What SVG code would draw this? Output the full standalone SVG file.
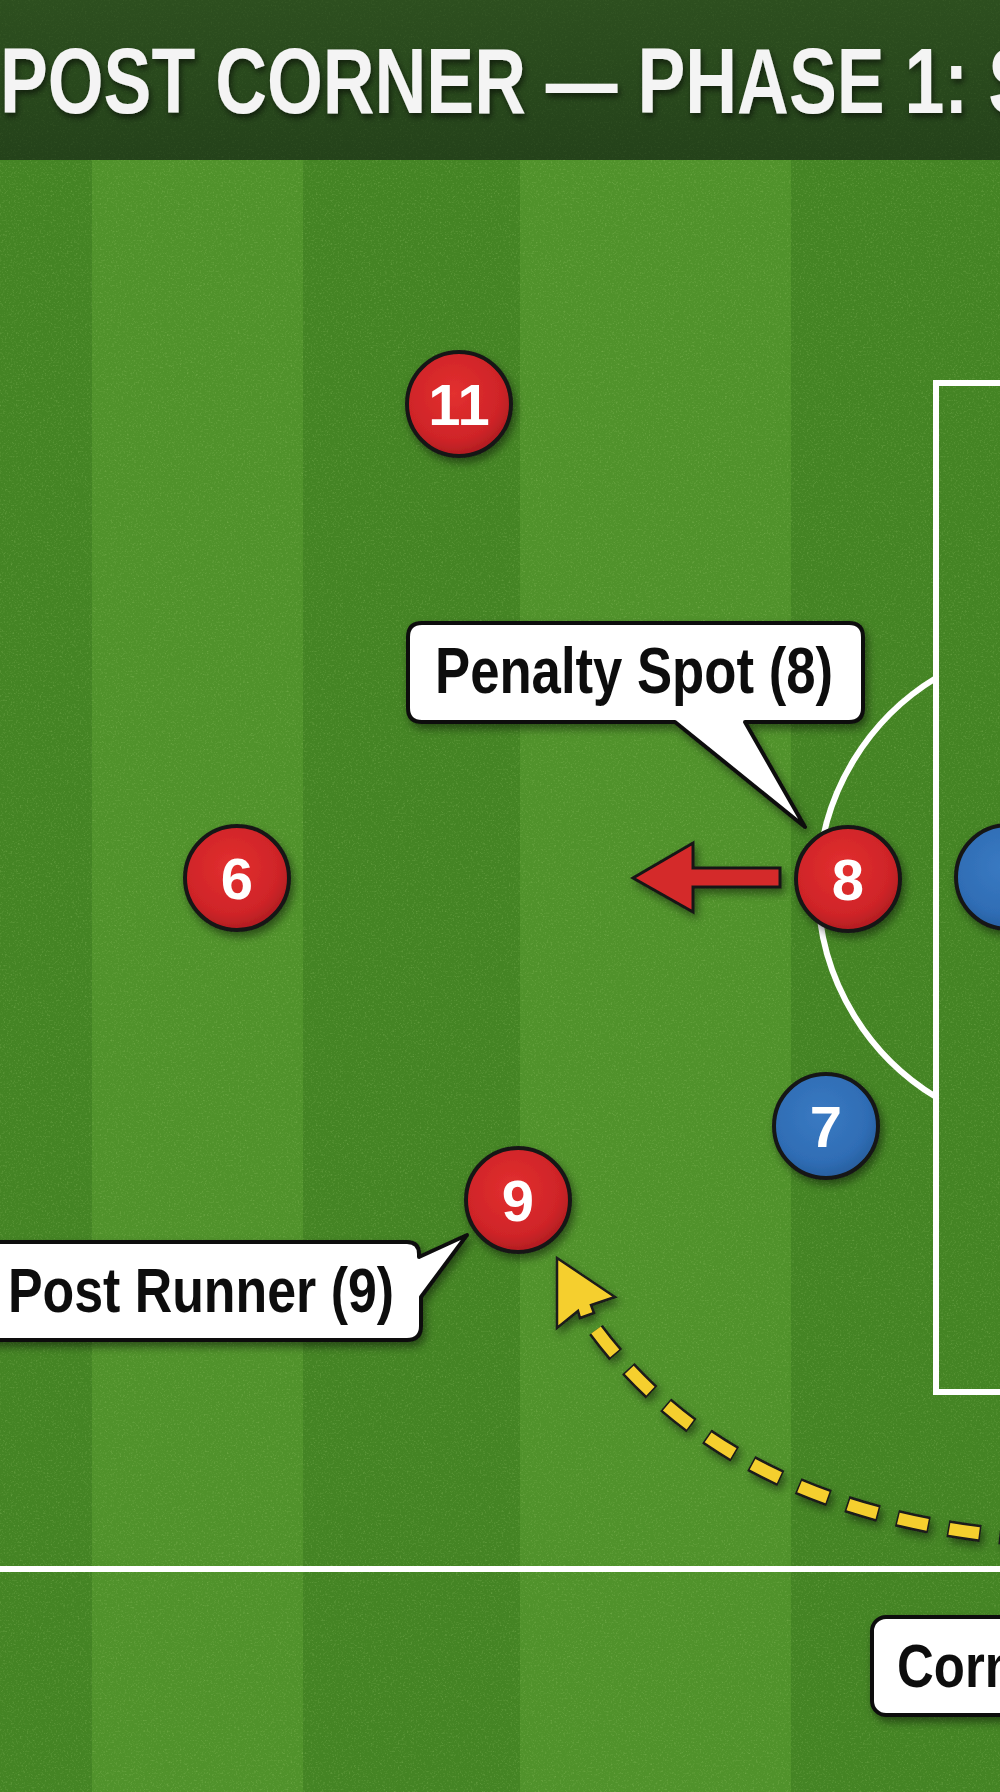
<svg xmlns="http://www.w3.org/2000/svg" width="1000" height="1792" viewBox="0 0 1000 1792">
  <defs>
    <style>
      .lbl { font-family: "Liberation Sans Narrow", "Liberation Sans", Arial, sans-serif; font-weight: bold; fill: #111; }
      .num { font-family: "Liberation Sans", Arial, sans-serif; font-weight: bold; fill: #fff; font-size: 58px; text-anchor: middle; }
      .box { fill: #fff; stroke: #111; stroke-width: 4; stroke-linejoin: round; }
      .pline { fill: none; stroke: #fff; stroke-width: 6; }
      .red { fill: url(#gRed); stroke: #161616; stroke-width: 4; }
      .blue { fill: url(#gBlue); stroke: #161616; stroke-width: 4; }
    </style>
    <radialGradient id="gRed" cx="45%" cy="40%" r="60%">
      <stop offset="0" stop-color="#e3302f"/>
      <stop offset="0.75" stop-color="#cf2428"/>
      <stop offset="1" stop-color="#b01d21"/>
    </radialGradient>
    <radialGradient id="gBlue" cx="45%" cy="40%" r="60%">
      <stop offset="0" stop-color="#3a7ac2"/>
      <stop offset="0.75" stop-color="#2f6db5"/>
      <stop offset="1" stop-color="#285f9f"/>
    </radialGradient>
    <linearGradient id="gTitle" x1="0" y1="0" x2="0" y2="1">
      <stop offset="0" stop-color="#2d4f1f"/>
      <stop offset="1" stop-color="#24421a"/>
    </linearGradient>
    <filter id="sh" x="-30%" y="-30%" width="160%" height="160%">
      <feDropShadow dx="3" dy="5" stdDeviation="4" flood-color="#000" flood-opacity="0.45"/>
    </filter>
    <filter id="tsh" x="-5%" y="-20%" width="110%" height="150%">
      <feDropShadow dx="2" dy="4" stdDeviation="3" flood-color="#000" flood-opacity="0.55"/>
    </filter>
    <filter id="noise" x="0" y="0" width="100%" height="100%">
      <feTurbulence type="fractalNoise" baseFrequency="0.55" numOctaves="2" seed="7"/>
      <feColorMatrix type="matrix" values="0 0 0 0 0.55  0 0 0 0 0.8  0 0 0 0 0.3  1.6 0 0 0 -0.85"/>
    </filter>
  </defs>

  <!-- pitch -->
  <g id="pitch">
    <rect x="0" y="0" width="1000" height="1792" fill="#448424"/>
    <rect x="92" y="0" width="211" height="1792" fill="#50922b"/>
    <rect x="520" y="0" width="271" height="1792" fill="#50922b"/>
    <rect x="0" y="0" width="1000" height="1792" filter="url(#noise)" opacity="0.4"/>
    <line x1="0" y1="1569" x2="1000" y2="1569" class="pline"/>
    <rect x="936" y="383" width="120" height="1009" class="pline"/>
    <path d="M 936 678 A 245 245 0 0 0 936 1097" class="pline"/>
  </g>

  <!-- title -->
  <g id="title">
    <rect x="0" y="0" width="1000" height="160" fill="url(#gTitle)"/>
    <rect x="0" y="0" width="1000" height="160" filter="url(#noise)" opacity="0.12"/>
    <text x="0" y="113" font-family="'Liberation Sans', Arial, sans-serif" font-weight="bold" font-size="93" fill="#f4f4f4" textLength="1036" lengthAdjust="spacingAndGlyphs" filter="url(#tsh)">POST CORNER — PHASE 1: S</text>
  </g>

  <!-- connectors -->
  <g id="connectors">
    <path id="run8" d="M780 868 L693 868 L693 843 L633 878 L693 912 L693 887 L780 887 Z" fill="#d42a2a" stroke="#161616" stroke-width="3" stroke-linejoin="miter" filter="url(#sh)"/>
    <g id="cross" filter="url(#sh)">
      <path d="M 596 1330 Q 730 1510 1012 1537" fill="none" stroke="#1a1a1a" stroke-width="17" stroke-dasharray="33 19" stroke-dashoffset="1.5"/>
      <path d="M 596 1330 Q 730 1510 1012 1537" fill="none" stroke="#f5cf2e" stroke-width="12" stroke-dasharray="30 22"/>
      <path d="M557 1258 L615 1297 L591 1305 L594 1313 L580 1318 L578 1311 L557 1328 Z" fill="#f5cf2e" stroke="#1a1a1a" stroke-width="2.5" stroke-linejoin="miter"/>
    </g>
  </g>

  <!-- players -->
  <g id="p11" filter="url(#sh)">
    <circle cx="459" cy="404" r="52" class="red"/>
    <text x="459" y="425" class="num">11</text>
  </g>
  <g id="p6" filter="url(#sh)">
    <circle cx="237" cy="878" r="52" class="red"/>
    <text x="237" y="899" class="num">6</text>
  </g>
  <g id="p8" filter="url(#sh)">
    <circle cx="848" cy="879" r="52" class="red"/>
    <text x="848" y="900" class="num">8</text>
  </g>
  <g id="pBlueRight" filter="url(#sh)">
    <circle cx="1008" cy="877" r="52" class="blue"/>
  </g>
  <g id="p7" filter="url(#sh)">
    <circle cx="826" cy="1126" r="52" class="blue"/>
    <text x="826" y="1147" class="num">7</text>
  </g>
  <g id="p9" filter="url(#sh)">
    <circle cx="518" cy="1200" r="52" class="red"/>
    <text x="518" y="1221" class="num">9</text>
  </g>

  <!-- callouts -->
  <g id="callout8" filter="url(#sh)">
    <path class="box" d="M422 623 L849 623 Q863 623 863 637 L863 708 Q863 722 849 722 L745 722 L805 827 L675 722 L422 722 Q408 722 408 708 L408 637 Q408 623 422 623 Z"/>
    <text x="435" y="693" class="lbl" font-size="64" textLength="398" lengthAdjust="spacingAndGlyphs">Penalty Spot (8)</text>
  </g>
  <g id="callout9" filter="url(#sh)">
    <path class="box" d="M-20 1242 L407 1242 Q419 1242 419 1254 L419 1257 L467 1235 L421 1297 L421 1326 Q421 1340 407 1340 L-20 1340 Z"/>
    <text x="8" y="1312" class="lbl" font-size="63" textLength="386" lengthAdjust="spacingAndGlyphs">Post Runner (9)</text>
  </g>
  <g id="calloutCorner" filter="url(#sh)">
    <rect x="872" y="1617" width="200" height="98" rx="14" class="box"/>
    <text x="897" y="1687" class="lbl" font-size="62" textLength="167" lengthAdjust="spacingAndGlyphs">Corner</text>
  </g>
</svg>
